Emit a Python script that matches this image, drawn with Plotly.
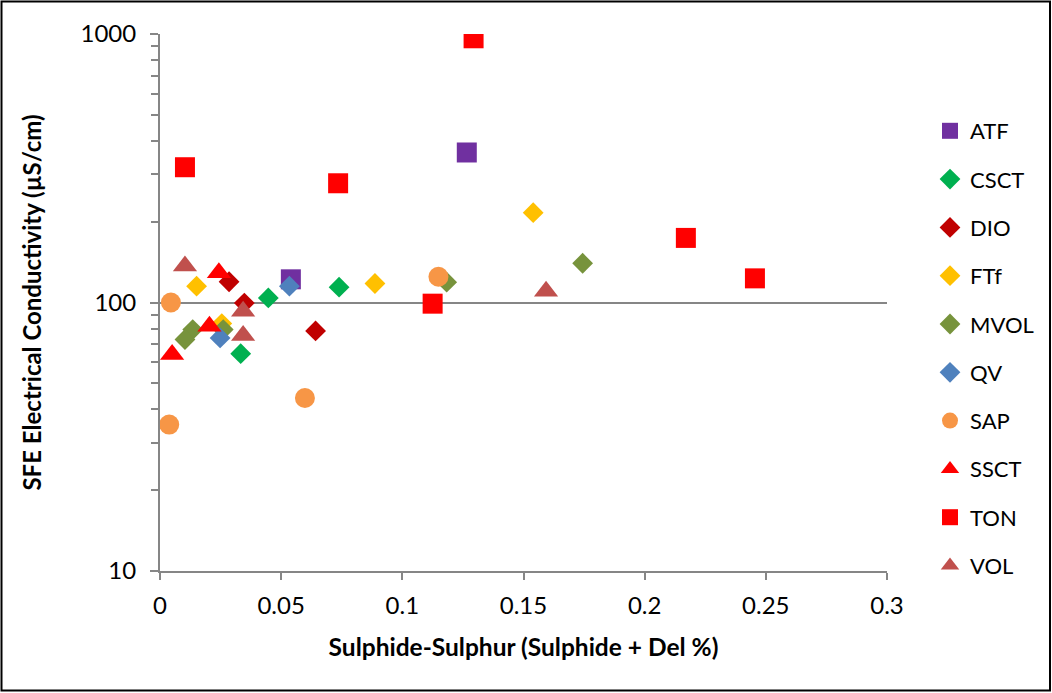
import plotly.graph_objects as go

# ---- data ----
series_names = ["ATF", "CSCT", "DIO", "FTf", "MVOL", "QV", "SAP", "SSCT", "TON", "VOL"]

atf_x = [0.054, 0.1266]
atf_y = [122, 362]

csct_x = [0.0447, 0.0333, 0.0739]
csct_y = [104, 64.5, 114]

dio_x = [0.0285, 0.0348, 0.0642]
dio_y = [119.5, 99.5, 78.4]

ftf_x = [0.0151, 0.0255, 0.0887, 0.154]
ftf_y = [115, 83.5, 117.7, 216]

mvol_x = [0.0135, 0.0103, 0.0261, 0.1183, 0.1744]
mvol_y = [79.3, 72.8, 79.3, 119, 140]

qv_x = [0.0248, 0.0534]
qv_y = [73.8, 115]

sap_x = [0.0045, 0.0038, 0.0598, 0.1149]
sap_y = [100, 35.1, 44.1, 124.7]

ssct_x = [0.005, 0.0243, 0.0204]
ssct_y = [64, 129, 81.6]

ton_x = [0.0103, 0.1294, 0.0735, 0.1125, 0.217, 0.2455]
ton_y = [319, 964, 278, 99, 174, 123]

vol_x = [0.0103, 0.0343, 0.0343, 0.1593]
vol_y = [136.7, 92.8, 75.3, 110.2]

x_tick_vals = [0, 0.05, 0.1, 0.15, 0.2, 0.25, 0.3]
x_tick_text = ["0", "0.05", "0.1", "0.15", "0.2", "0.25", "0.3"]
y_tick_vals = [10, 100, 1000]
y_tick_text = ["10", "100", "1000"]
y_minor_vals = [20, 30, 40, 50, 60, 70, 80, 90, 200, 300, 400, 500, 600, 700, 800, 900]

# ---- styling ----
series_data = [
    (atf_x, atf_y, "square", 20, "#7030A0"),
    (csct_x, csct_y, "diamond", 16, "#00B050"),
    (dio_x, dio_y, "diamond", 16, "#C00000"),
    (ftf_x, ftf_y, "diamond", 16, "#FFC000"),
    (mvol_x, mvol_y, "diamond", 16, "#77933C"),
    (qv_x, qv_y, "diamond", 16, "#4F81BD"),
    (sap_x, sap_y, "circle", 20, "#F79646"),
    (ssct_x, ssct_y, "triangle-up", 21, "#FF0000"),
    (ton_x, ton_y, "square", 20, "#FF0000"),
    (vol_x, vol_y, "triangle-up", 21, "#C0504D"),
]

FONT = "Lato"
GRID = "#868686"

fig = go.Figure()
for name, (xs, ys, sym, size, col) in zip(series_names, series_data):
    fig.add_trace(go.Scatter(
        x=xs, y=ys, mode="markers", name=name, legendgroup=name,
        marker=dict(symbol=sym, size=size, color=col, line=dict(width=0)),
    ))

W, H = 1052, 693
L, R, T, B = 160, 165, 34, 122
pw, ph = W - L - R, H - T - B

def px_x(p):
    return (p - L) / pw

def px_y(p):
    return (H - B - p) / ph

fig.update_layout(
    width=W, height=H,
    margin=dict(l=L, r=R, t=T, b=B),
    paper_bgcolor="white", plot_bgcolor="white",
    font=dict(family=FONT, color="black", size=20),
    showlegend=True,
    legend=dict(
        x=px_x(930), y=px_y(110), xanchor="left", yanchor="top",
        font=dict(family=FONT, size=22, color="black"),
        tracegroupgap=16.7, itemsizing="trace", bgcolor="rgba(0,0,0,0)",
    ),
    xaxis=dict(
        range=[0, 0.3], tickvals=x_tick_vals, ticktext=x_tick_text,
        showgrid=False, zeroline=False, showline=True, linecolor=GRID, linewidth=2,
        ticks="outside", ticklen=7, tickwidth=2, tickcolor=GRID,
        tickfont=dict(family=FONT, size=24), ticklabelstandoff=5,
        title=dict(text="<b>Sulphide-Sulphur (Sulphide + Del %)</b>",
                   font=dict(family=FONT, size=24.5), standoff=21),
    ),
    yaxis=dict(
        type="log", range=[1, 3], tickvals=y_tick_vals, ticktext=y_tick_text,
        showgrid=True, gridcolor=GRID, gridwidth=2,
        zeroline=False, showline=True, linecolor=GRID, linewidth=2,
        ticks="outside", ticklen=8, tickwidth=2, tickcolor=GRID,
        tickfont=dict(family=FONT, size=24), ticklabelstandoff=9,
        minor=dict(tickvals=y_minor_vals, ticks="outside", ticklen=7, tickwidth=2,
                   tickcolor=GRID, showgrid=False),
        title=dict(text="<b>SFE Electrical Conductivity (µS/cm)</b>",
                   font=dict(family=FONT, size=24), standoff=32),
    ),
)

# outer chart border
fig.add_shape(type="rect", xref="paper", yref="paper",
              x0=px_x(1.5), x1=px_x(1050), y0=px_y(690.5), y1=px_y(1.5),
              line=dict(color="black", width=2), fillcolor="rgba(0,0,0,0)", layer="above")

fig.write_html("out.html")
